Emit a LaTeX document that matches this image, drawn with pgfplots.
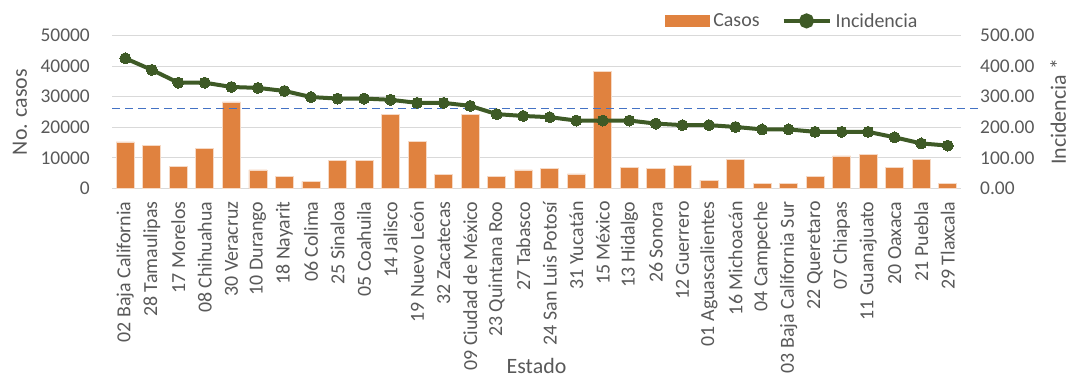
\documentclass[border=0pt]{standalone}
\usepackage{pgfplots}
\pgfplotsset{compat=1.18}
\usepackage{pgfplotstable}
\usepackage{fontspec}
\setmainfont{Carlito}

\definecolor{barorange}{HTML}{E0823F}
\definecolor{linegreen}{HTML}{3E5A26}
\definecolor{refblue}{HTML}{4472C4}
\definecolor{textgray}{HTML}{595959}
\definecolor{gridgray}{HTML}{D9D9D9}

% casos: confirmed cases; incid: incidence rate per state
\pgfplotstableread{
idx casos incid
0  15200 426
1  14000 388
2  7100  346
3  13000 346
4  28300 332
5  6000  329
6  4000  319
7  2300  299
8  9000  294
9  9200  294
10 24300 290
11 15400 280
12 4500  280
13 24200 270
14 4000  243
15 6000  237
16 6400  233
17 4700  222
18 38200 222
19 6700  222
20 6400  212
21 7500  207
22 2700  207
23 9500  201
24 1700  193
25 1500  193
26 4000  185
27 10600 185
28 11200 185
29 6800  167
30 9500  147
31 1700  140
}\datatable

\pgfplotsset{
  base/.style={
    scale only axis, width=849bp, height=152.6bp,
    xmin=-0.5, xmax=31.5, ymin=0,
    axis line style={draw=none},
    major tick length=0pt, tick style={draw=none},
    /pgf/number format/assume math mode=true,
    ticklabel style={font=\fontsize{19.5}{22}\selectfont, text=textgray, inner sep=0pt},
    label style={font=\fontsize{22}{24}\selectfont, text=textgray},
  },
  barlegend/.style={legend image code/.code={%
    \fill[barorange] (0bp,-5.5bp) rectangle (44bp,5.5bp);}},
  linelegend/.style={legend image code/.code={%
    \draw[linegreen, line width=4bp] (0bp,0bp) -- (46bp,0bp);
    \fill[linegreen] (23bp,0bp) circle[radius=5.5bp];}},
}

\begin{document}
\begin{tikzpicture}
\useasboundingbox (0,0) rectangle (1077bp,380bp);

% cases (bars, left axis)
\begin{axis}[base, at={(112bp,191.7bp)}, anchor=south west,
  ymax=50000, ytick={0,10000,...,50000},
  scaled y ticks=false,
  yticklabel style={/pgf/number format/1000 sep={}},
  yticklabel shift=22bp,
  ymajorgrids, grid style={gridgray, line width=1bp},
  xtick={0,...,31},
  xticklabels={02 Baja California, 28 Tamaulipas, 17 Morelos, 08 Chihuahua,
    30 Veracruz, 10 Durango, 18 Nayarit, 06 Colima, 25 Sinaloa, 05 Coahuila,
    14 Jalisco, 19 Nuevo León, 32 Zacatecas, 09 Ciudad de México,
    23 Quintana Roo, 27 Tabasco, 24 San Luis Potosí, 31 Yucatán, 15 México,
    13 Hidalgo, 26 Sonora, 12 Guerrero, 01 Aguascalientes, 16 Michoacán,
    04 Campeche, 03 Baja California Sur, 22 Queretaro, 07 Chiapas,
    11 Guanajuato, 20 Oaxaca, 21 Puebla, 29 Tlaxcala},
  xticklabel style={rotate=90, anchor=east, font=\fontsize{20}{22}\selectfont},
  xticklabel shift=13bp,
  xlabel={Estado},
  xlabel style={at={(axis description cs:0.5,-1.1665)}, anchor=center},
  ylabel={No. casos},
  ylabel style={at={(axis description cs:-0.1084,0.5)}, anchor=center},
]
\addplot[ybar, bar width=0.68, fill=barorange, draw=white!70!barorange, line width=0.8bp]
  table[x=idx, y=casos] {\datatable};
\end{axis}

% incidence (line, right axis)
\begin{axis}[base, at={(112bp,191.7bp)}, anchor=south west, clip=false,
  ymax=500, ytick={0,100,...,500},
  yticklabel pos=right,
  yticklabel style={/pgf/number format/.cd, fixed, fixed zerofill, precision=2},
  yticklabel shift=19bp,
  xtick=\empty,
  ylabel={Incidencia *},
  ylabel style={at={(axis description cs:1.1143,0.5)}, anchor=center},
  legend columns=2,
  legend style={draw=none, fill=none, inner sep=0pt,
    at={(axis description cs:0.651,1.097)}, anchor=west,
    font=\fontsize{20}{22}\selectfont, text=textgray,
    nodes={inner sep=0pt},
    /tikz/every odd column/.append style={column sep=4bp},
    /tikz/every even column/.append style={column sep=22bp}},
]
\addlegendimage{barlegend}
\addlegendentry{Casos}
\addplot[refblue, line width=1.5bp, dash pattern=on 8bp off 5bp, forget plot]
  coordinates {(-0.5,262) (32.2,262)};
\addplot[linegreen, line width=4bp, mark=*, mark size=5.5bp,
  mark options={fill=linegreen, draw=linegreen, line width=0pt}, linelegend]
  table[x=idx, y=incid] {\datatable};
\addlegendentry{Incidencia}
\end{axis}
\end{tikzpicture}
\end{document}
